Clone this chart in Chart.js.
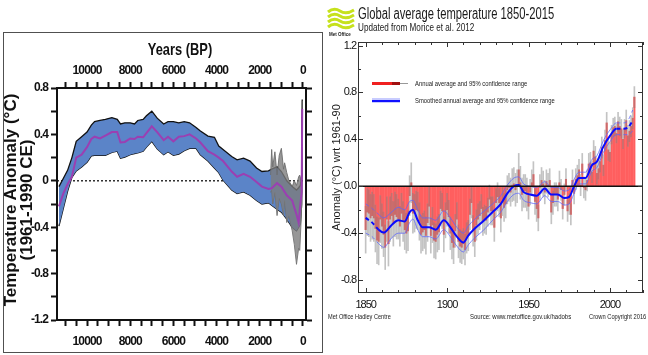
<!DOCTYPE html>
<html><head><meta charset="utf-8">
<script src="https://cdn.jsdelivr.net/npm/chart.js@4.4.1/dist/chart.umd.min.js"></script>
<style>
html,body{margin:0;padding:0;background:#fff;width:648px;height:355px;overflow:hidden;position:relative;font-family:"Liberation Sans",Arial,sans-serif;}
#lbox{position:absolute;left:3px;top:32px;width:320px;height:321px;box-sizing:border-box;border:1.5px solid #505050;}
#lwrap{position:absolute;left:4px;top:33px;width:317px;height:318px;}
#rwrap{position:absolute;left:324px;top:0;width:324px;height:355px;}
.t{position:absolute;white-space:nowrap;font-family:"Liberation Sans",Arial,sans-serif;color:#1a1a1a;line-height:1;transform-origin:0 0;}
.s{position:absolute;}
</style></head><body>
<div id="lbox"></div>
<div id="lwrap"><canvas id="left" width="317" height="318"></canvas></div>
<div id="rwrap"><canvas id="right" width="324" height="355"></canvas></div>

<div class="t" style="left:100px;top:41px;width:160px;text-align:center;font-size:16.5px;font-weight:bold;color:#111;transform:scaleX(0.78);transform-origin:50% 50%;">Years (BP)</div>
<div class="t" style="left:-100.5px;top:183px;width:240px;height:34px;text-align:center;font-size:17px;line-height:16px;font-weight:bold;color:#111;transform:rotate(-90deg);transform-origin:50% 50%;">Temperature Anomaly (°C)<br>(1961-1990 CE)</div>
<div class="t" style="left:256px;top:161px;width:160px;height:13px;text-align:center;font-size:11px;line-height:13px;transform:rotate(-90deg);transform-origin:50% 50%;">Anomaly (°C) wrt 1961-90</div>

<svg style="position:absolute;left:327px;top:7px" width="28" height="24" viewBox="0 0 28 24">
<g fill="none" stroke="#c6e11c" stroke-width="3">
<path d="M1 5 Q7 0 13 4 T27 3"/><path d="M1 10 Q7 5 13 9 T27 8"/>
<path d="M1 15 Q7 10 13 14 T27 13"/><path d="M1 20 Q7 15 13 19 T27 18"/>
</g></svg>
<div class="t" style="left:329px;top:31px;font-size:6px;font-weight:bold;transform:scaleX(0.75);">Met Office</div>
<div class="t" style="left:358px;top:6px;font-size:16px;transform:scaleX(0.7);">Global average temperature 1850-2015</div>
<div class="t" style="left:358px;top:22px;font-size:11px;transform:scaleX(0.74);">Updated from Morice et al. 2012</div>

<div class="s" style="left:372px;top:82px;width:28px;height:3px;background:#f02020;"></div>
<div class="s" style="left:392px;top:82px;width:8px;height:3px;background:#a01010;"></div>
<div class="s" style="left:400px;top:83px;width:8px;height:1px;background:#999;"></div>
<div class="t" style="left:415px;top:80px;font-size:7.5px;transform:scaleX(0.78);">Annual average and 95% confidence range</div>
<div class="s" style="left:372px;top:98px;width:28px;height:5px;background:#c8ccff;"></div>
<div class="s" style="left:372px;top:99.5px;width:28px;height:2px;background:#1010ff;"></div>
<div class="t" style="left:415px;top:96.5px;font-size:7.5px;transform:scaleX(0.78);">Smoothed annual average and 95% confidence range</div>

<div class="t" style="left:328px;top:313px;font-size:8px;transform:scaleX(0.7);">Met Office Hadley Centre</div>
<div class="t" style="left:470px;top:313px;font-size:8px;transform:scaleX(0.75);">Source: www.metoffice.gov.uk/hadobs</div>
<div class="t" style="left:589px;top:313px;font-size:8px;transform:scaleX(0.72);">Crown Copyright 2016</div>

<script>
// ===== Left panel: Holocene temperature reconstruction (years BP) =====
const bpAges   = [11300,11100,10900,10700,10500,10250,10000,9800,9650,9400,9150,8850,8600,8450,8250,8000,7800,7650,7400,7250,7000,6750,6450,6250,6000,5750,5500,5250,4950,4750,4400,4100,3900,3700,3300,3050,2750,2450,2150,1900,1600,1450,1200,1000,750,500,300,200,120,60,35];
const holoMean = [-0.22,-0.11,-0.03,0.035,0.20,0.225,0.29,0.36,0.38,0.365,0.39,0.42,0.42,0.33,0.335,0.365,0.36,0.38,0.375,0.41,0.47,0.42,0.35,0.38,0.34,0.38,0.385,0.40,0.365,0.33,0.255,0.225,0.20,0.17,0.08,0.035,0.06,0.035,-0.01,-0.05,-0.07,-0.065,-0.02,-0.05,-0.125,-0.17,-0.29,-0.36,-0.20,-0.10,0.62];
const holoUpper = [-0.05,0.02,0.09,0.20,0.34,0.38,0.42,0.48,0.51,0.52,0.53,0.545,0.53,0.49,0.50,0.50,0.49,0.52,0.53,0.56,0.60,0.54,0.49,0.51,0.51,0.50,0.51,0.50,0.46,0.43,0.385,0.375,0.30,0.27,0.21,0.18,0.195,0.17,0.11,0.08,0.085,0.10,0.12,0.08,0.0,-0.05,-0.08,-0.06,-0.04,0.05,0.70];
const holoLower = [-0.39,-0.24,-0.09,0.03,0.085,0.12,0.16,0.215,0.22,0.22,0.22,0.245,0.255,0.195,0.205,0.225,0.235,0.24,0.255,0.29,0.34,0.275,0.225,0.25,0.22,0.23,0.26,0.28,0.28,0.225,0.17,0.11,0.07,0.005,-0.08,-0.11,-0.095,-0.125,-0.17,-0.20,-0.19,-0.21,-0.245,-0.27,-0.33,-0.40,-0.43,-0.40,-0.37,-0.20,0.55];
const recentAges = [1500,1450,1400,1300,1200,1100,1000,900,850,750,650,500,400,300,200,150,100,60,35];
const recentHigh = [0.05,0.27,0.12,0.25,0.05,0.22,0.28,0.10,0.155,0.07,0.0,-0.05,0.0,-0.04,0.035,0.05,0.0,0.05,0.69];
const recentLow  = [-0.10,-0.08,-0.20,-0.10,-0.30,-0.15,-0.20,-0.30,-0.17,-0.36,-0.30,-0.43,-0.55,-0.72,-0.58,-0.60,-0.40,-0.20,0.50];
const bpTicks = [0,500,1000,1500,2000,2500,3000,3500,4000,4500,5000,5500,6000,6500,7000,7500,8000,8500,9000,9500,10000,10500,11000];
const bpLabels = [0,2000,4000,6000,8000,10000];
const anomTicks = [-1.2,-1.0,-0.8,-0.6,-0.4,-0.2,0,0.2,0.4,0.6,0.8];
const anomLabels = [-1.2,-0.8,-0.4,0,0.4,0.8];

// ===== Right panel: HadCRUT4 annual global mean 1850-2015 =====
const years = [
1850,1851,1852,1853,1854,1855,1856,1857,1858,1859,1860,1861,1862,1863,1864,1865,1866,1867,1868,1869,
1870,1871,1872,1873,1874,1875,1876,1877,1878,1879,1880,1881,1882,1883,1884,1885,1886,1887,1888,1889,
1890,1891,1892,1893,1894,1895,1896,1897,1898,1899,1900,1901,1902,1903,1904,1905,1906,1907,1908,1909,
1910,1911,1912,1913,1914,1915,1916,1917,1918,1919,1920,1921,1922,1923,1924,1925,1926,1927,1928,1929,
1930,1931,1932,1933,1934,1935,1936,1937,1938,1939,1940,1941,1942,1943,1944,1945,1946,1947,1948,1949,
1950,1951,1952,1953,1954,1955,1956,1957,1958,1959,1960,1961,1962,1963,1964,1965,1966,1967,1968,1969,
1970,1971,1972,1973,1974,1975,1976,1977,1978,1979,1980,1981,1982,1983,1984,1985,1986,1987,1988,1989,
1990,1991,1992,1993,1994,1995,1996,1997,1998,1999,2000,2001,2002,2003,2004,2005,2006,2007,2008,2009,
2010,2011,2012,2013,2014,2015];
const annualAnom = [
-0.37,-0.22,-0.23,-0.27,-0.25,-0.27,-0.36,-0.46,-0.47,-0.28,
-0.34,-0.41,-0.52,-0.28,-0.49,-0.28,-0.25,-0.32,-0.24,-0.26,
-0.28,-0.34,-0.23,-0.30,-0.37,-0.40,-0.38,-0.08,0.03,-0.23,
-0.23,-0.20,-0.21,-0.30,-0.41,-0.39,-0.37,-0.42,-0.31,-0.17,
-0.42,-0.33,-0.46,-0.47,-0.41,-0.39,-0.19,-0.21,-0.41,-0.29,
-0.20,-0.26,-0.40,-0.48,-0.52,-0.38,-0.28,-0.47,-0.51,-0.52,
-0.49,-0.54,-0.44,-0.42,-0.24,-0.14,-0.38,-0.47,-0.33,-0.28,
-0.25,-0.19,-0.30,-0.28,-0.29,-0.22,-0.11,-0.21,-0.21,-0.35,
-0.14,-0.09,-0.14,-0.27,-0.13,-0.18,-0.15,-0.03,-0.01,-0.05,
0.01,0.02,-0.03,0.00,0.14,0.03,-0.07,-0.04,-0.04,-0.07,
-0.17,-0.05,0.03,0.10,-0.13,-0.19,-0.27,-0.01,0.05,0.02,
-0.05,0.04,0.01,0.05,-0.22,-0.14,-0.07,-0.07,-0.11,0.03,
-0.03,-0.19,-0.07,0.06,-0.21,-0.15,-0.24,0.05,-0.06,0.06,
0.09,0.14,0.01,0.19,-0.01,-0.03,0.05,0.19,0.20,0.12,
0.30,0.25,0.11,0.15,0.21,0.33,0.18,0.39,0.54,0.31,
0.29,0.44,0.50,0.51,0.45,0.55,0.51,0.49,0.40,0.49,
0.56,0.43,0.47,0.51,0.58,0.76];
// 95% half-range per decade, 1850s .. 2010s
const decadeErr = [0.20,0.19,0.17,0.16,0.15,0.14,0.13,0.12,0.12,0.14,0.11,0.10,0.09,0.09,0.09,0.08,0.09];
const smoothYears = [1850,1854,1858,1861,1866,1870,1874,1877,1879,1882,1885,1889,1893,1898,1902,1906,1910,1913,1917,1922,1928,1933,1937,1941,1944,1947,1951,1955,1960,1964,1968,1972,1975,1978,1981,1985,1989,1992,1996,2000,2004,2008,2011,2014];
const smoothMean  = [-0.27,-0.31,-0.37,-0.395,-0.33,-0.29,-0.30,-0.22,-0.20,-0.29,-0.35,-0.35,-0.37,-0.29,-0.35,-0.43,-0.48,-0.42,-0.36,-0.30,-0.22,-0.15,-0.06,0.0,0.01,-0.05,-0.07,-0.08,-0.02,-0.07,-0.07,-0.10,-0.09,0.0,0.07,0.07,0.18,0.21,0.34,0.43,0.49,0.49,0.50,0.56];
const smoothUpper = [-0.15,-0.19,-0.24,-0.27,-0.22,-0.18,-0.20,-0.13,-0.12,-0.20,-0.27,-0.27,-0.29,-0.21,-0.27,-0.35,-0.40,-0.34,-0.28,-0.22,-0.15,-0.08,0.01,0.07,0.08,0.02,0.0,-0.01,0.04,-0.01,-0.01,-0.04,-0.03,0.06,0.12,0.12,0.23,0.26,0.39,0.48,0.54,0.54,0.56,0.65];
const smoothLower = [-0.40,-0.43,-0.49,-0.52,-0.44,-0.40,-0.40,-0.31,-0.28,-0.37,-0.43,-0.43,-0.45,-0.37,-0.43,-0.51,-0.56,-0.50,-0.44,-0.38,-0.29,-0.22,-0.13,-0.07,-0.06,-0.12,-0.14,-0.15,-0.08,-0.13,-0.13,-0.16,-0.15,-0.06,0.02,0.02,0.13,0.16,0.29,0.38,0.44,0.44,0.44,0.47];
const yearLabels = [1850,1900,1950,2000];
const yearMinor = [1850,1860,1870,1880,1890,1900,1910,1920,1930,1940,1950,1960,1970,1980,1990,2000,2010,2020];
const rAnomTicks = [-0.8,-0.6,-0.4,-0.2,0,0.2,0.4,0.6,0.8,1.0,1.2];
const rAnomLabels = [-0.8,-0.4,0,0.4,0.8,1.2];

const SANS = '"Liberation Sans",Arial,sans-serif';
const INK = '#111';
const pts = (xs, ys) => xs.map((x, i) => ({x: x, y: ys[i]}));
const near = (list, v) => list.some(t => Math.abs(t - v) < 1e-6);
// condensed look for canvas tick labels
const condense = sp => ({ id: 'condense', beforeDraw(chart) { chart.ctx.letterSpacing = sp; } });

// ---------- Left chart ----------
const zeroDotted = {
  id: 'zeroDotted',
  beforeDatasetsDraw(chart) {
    const {ctx, chartArea: a} = chart; const y = chart.scales.y.getPixelForValue(0);
    ctx.save(); ctx.strokeStyle = '#111'; ctx.lineWidth = 1.3; ctx.setLineDash([2, 2]);
    ctx.beginPath(); ctx.moveTo(a.left, y); ctx.lineTo(a.right, y); ctx.stroke(); ctx.restore();
  }
};
const axisTickGrid = {drawOnChartArea: false, drawTicks: true, tickLength: 6, tickWidth: 2, tickColor: INK, color: INK};
const axisBorder = {display: true, color: INK, width: 2};
const bpCfg = (pos, h, pad) => ({
  type: 'linear', position: pos, reverse: true, min: -140, max: 11390,
  afterBuildTicks: s => { s.ticks = bpTicks.map(v => ({value: v})); },
  afterFit: s => { s.height = h; },
  ticks: {autoSkip: false, maxRotation: 0, padding: pad, color: INK,
          font: {family: SANS, weight: 'bold', size: 12},
          callback: v => near(bpLabels, v) ? String(v) : ''},
  grid: axisTickGrid, border: axisBorder
});
new Chart(document.getElementById('left'), {
  type: 'line',
  data: {datasets: [
    {data: pts(bpAges, holoUpper), borderColor: '#111', borderWidth: 1.3, pointRadius: 0, fill: '+1', backgroundColor: '#5b84c8', order: 3},
    {data: pts(bpAges, holoLower), borderColor: '#111', borderWidth: 1.3, pointRadius: 0, fill: false, order: 3},
    {data: pts(recentAges, recentHigh), borderColor: 'rgba(110,110,110,0.9)', borderWidth: 1, pointRadius: 0, fill: '+1', backgroundColor: 'rgba(125,125,125,0.8)', order: 2},
    {data: pts(recentAges, recentLow), borderColor: 'rgba(110,110,110,0.9)', borderWidth: 1, pointRadius: 0, fill: false, order: 2},
    {data: pts(bpAges, holoMean), borderColor: '#9b3fb2', borderWidth: 2, pointRadius: 0, fill: false, order: 1}
  ]},
  options: {
    responsive: false, animation: false, events: [],
    layout: {padding: 0},
    plugins: {legend: {display: false}, tooltip: {enabled: false}},
    scales: {
      x: bpCfg('top', 55, 4),
      x2: bpCfg('bottom', 31, 8),
      y: {type: 'linear', position: 'left', min: -1.2, max: 0.8,
          afterBuildTicks: s => { s.ticks = anomTicks.map(v => ({value: v})); },
          afterFit: s => { s.width = 53; },
          ticks: {padding: 3, color: INK, font: {family: SANS, weight: 'bold', size: 12},
                  callback: v => near(anomLabels, v) ? (Math.abs(v) < 1e-9 ? '0' : v.toFixed(1)) : ''},
          grid: axisTickGrid, border: axisBorder},
      y2: {type: 'linear', position: 'right', min: -1.2, max: 0.8,
          afterBuildTicks: s => { s.ticks = anomTicks.map(v => ({value: v})); },
          afterFit: s => { s.width = 15; },
          ticks: {display: false}, grid: axisTickGrid, border: axisBorder}
    }
  },
  plugins: [zeroDotted, condense('-0.9px')]
});

// ---------- Right chart ----------
const errLow = annualAnom.map((v, i) => v - decadeErr[Math.floor(i / 10)]);
const errHigh = annualAnom.map((v, i) => v + decadeErr[Math.floor(i / 10)]);
const darkPart = annualAnom.map((v, i) => v < 0 ? [v, Math.min(errHigh[i], 0)] : [Math.max(errLow[i], 0), v]);

const frameTicks = {
  id: 'frameTicks',
  afterDatasetsDraw(chart) {
    const {ctx, chartArea: a, scales: {x, y}} = chart;
    ctx.save();
    ctx.strokeStyle = '#111'; ctx.lineWidth = 1.4;
    const y0 = y.getPixelForValue(0);
    ctx.beginPath(); ctx.moveTo(a.left, y0); ctx.lineTo(a.right, y0); ctx.stroke();
    ctx.strokeStyle = '#333'; ctx.lineWidth = 1;
    ctx.strokeRect(a.left + 0.5, a.top + 0.5, a.right - a.left - 1, a.bottom - a.top - 1);
    ctx.beginPath();
    yearMinor.forEach(v => {
      const px = Math.round(x.getPixelForValue(v)) + 0.5; const L = near(yearLabels, v) ? 5 : 3;
      ctx.moveTo(px, a.bottom); ctx.lineTo(px, a.bottom - L);
      ctx.moveTo(px, a.top); ctx.lineTo(px, a.top + L);
    });
    rAnomTicks.forEach(v => {
      const py = Math.round(y.getPixelForValue(v)) + 0.5; const L = near(rAnomLabels, v) ? 5 : 3;
      ctx.moveTo(a.left, py); ctx.lineTo(a.left + L, py);
      ctx.moveTo(a.right, py); ctx.lineTo(a.right - L, py);
    });
    ctx.stroke(); ctx.restore();
  }
};
const endDash = ctx => (ctx.p0.parsed.x < 1855 || ctx.p1.parsed.x > 2006) ? [4, 3] : undefined;
new Chart(document.getElementById('right'), {
  type: 'bar',
  data: {datasets: [
    {type: 'line', data: pts(smoothYears, smoothMean), borderColor: '#0a0aff', borderWidth: 2, pointRadius: 0,
     cubicInterpolationMode: 'monotone', segment: {borderDash: endDash}, order: 0},
    {type: 'line', data: pts(smoothYears, smoothUpper), borderColor: 'rgba(90,100,255,0.75)', borderWidth: 1, pointRadius: 0,
     cubicInterpolationMode: 'monotone', segment: {borderDash: endDash}, order: 1},
    {type: 'line', data: pts(smoothYears, smoothLower), borderColor: 'rgba(90,100,255,0.75)', borderWidth: 1, pointRadius: 0,
     cubicInterpolationMode: 'monotone', segment: {borderDash: endDash}, order: 1},
    {data: pts(years, darkPart), backgroundColor: 'rgba(205,35,35,0.42)', barThickness: 1, grouped: false, order: 2},
    {data: pts(years, errLow.map((v, i) => [v, errHigh[i]])), backgroundColor: 'rgba(180,180,180,0.8)', barThickness: 1, grouped: false, order: 3},
    {data: pts(years, annualAnom), backgroundColor: 'rgb(255,95,95)', barThickness: 1.4, grouped: false, order: 4}
  ]},
  options: {
    responsive: false, animation: false, events: [],
    layout: {padding: {top: 42, right: 5, left: 0, bottom: 0}},
    plugins: {legend: {display: false}, tooltip: {enabled: false}},
    scales: {
      x: {type: 'linear', min: 1845.3, max: 2020.3, offset: false,
          afterBuildTicks: s => { s.ticks = yearLabels.map(v => ({value: v})); },
          afterFit: s => { s.height = 62; },
          ticks: {autoSkip: false, maxRotation: 0, padding: 5, color: INK, font: {family: SANS, size: 11}, callback: v => String(v)},
          grid: {display: false, drawTicks: false}, border: {display: false}},
      y: {type: 'linear', min: -0.91, max: 1.23,
          afterBuildTicks: s => { s.ticks = rAnomLabels.map(v => ({value: v})); },
          afterFit: s => { s.width = 34; },
          ticks: {padding: 2, color: INK, font: {family: SANS, size: 11}, callback: v => v.toFixed(1)},
          grid: {display: false, drawTicks: false}, border: {display: false}}
    }
  },
  plugins: [frameTicks, condense('-1px')]
});
</script>
</body></html>
